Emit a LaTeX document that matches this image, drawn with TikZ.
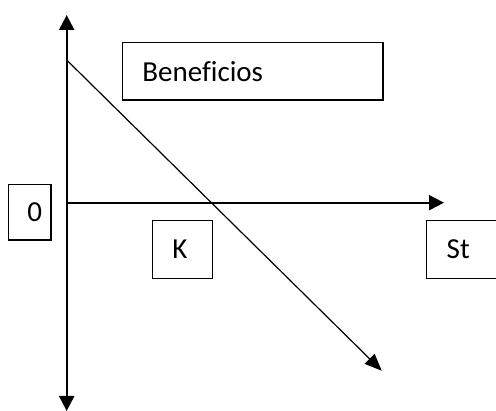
\documentclass[tikz,border=0pt]{standalone}
\usepackage{fontspec}
\setmainfont{Carlito}[Ligatures=NoCommon]
\usetikzlibrary{arrows.meta}
\begin{document}
\begin{tikzpicture}[x=1pt,y=-1pt,
  axis/.style={line width=2pt,-{Triangle[length=15pt,width=15pt]}},
  diag/.style={line width=1.2pt,-{Triangle[length=17pt,width=14pt]}},
  lbl/.style={draw,line width=1.4pt,inner xsep=0pt,inner ysep=0pt,anchor=north west,
    font=\fontsize{29}{32}\selectfont}]
\useasboundingbox (0,0) rectangle (496,411);
\clip (0,0) rectangle (496,411);
\coordinate (O) at (66.7,202.7);
\coordinate (top) at (66.7,15);
\coordinate (bot) at (66.7,411);
\coordinate (right) at (444,202.7);
\coordinate (ds) at (66.7,60);
\coordinate (de) at (381.7,370.7);
\draw[axis] (O) -- (top);
\draw[axis] (O) -- (bot);
\draw[axis] (O) -- (right);
\draw[diag] (ds) -- (de);
\node[lbl,minimum height=57.3pt] (ben) at (121.7,42) {\makebox[260.6pt][l]{\hspace{20pt}Beneficios}};
\node[lbl,minimum height=55.6pt] (zero) at (7.7,183.7) {\makebox[42.6pt][l]{\hspace{19pt}0}};
\node[lbl,minimum height=58pt] (k) at (151.7,219.7) {\makebox[60.3pt][l]{\hspace{20pt}K}};
\node[lbl,minimum height=58pt] (st) at (426,219.7) {\makebox[80pt][l]{\hspace{20pt}St}};
\end{tikzpicture}
\end{document}
